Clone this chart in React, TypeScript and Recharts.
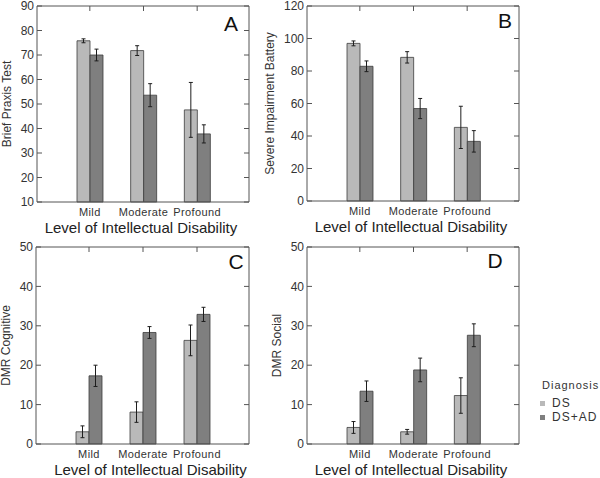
import { Bar, BarChart, ErrorBar, XAxis, YAxis } from "recharts";

const levels = ["Mild", "Moderate", "Profound"];
const seriesNames = ["DS", "DS+AD"];
const seriesColors = ["#b9b9b9", "#7f7f7f"];

// A - Brief Praxis Test
const praxisDS = [75.8, 71.8, 47.6];
const praxisDSErr = [0.8, 2, 11.2];
const praxisAD = [70, 53.6, 37.8];
const praxisADErr = [2.4, 4.7, 3.7];
const praxisTicks = [10, 20, 30, 40, 50, 60, 70, 80, 90];

// B - Severe Impairment Battery
const sibDS = [97, 88.4, 45.3];
const sibDSErr = [1.5, 3.5, 13];
const sibAD = [82.9, 56.9, 36.7];
const sibADErr = [3.3, 6.2, 6.6];
const sibTicks = [0, 20, 40, 60, 80, 100, 120];

// C - DMR Cognitive
const cogDS = [3.1, 8.1, 26.3];
const cogDSErr = [1.5, 2.6, 3.9];
const cogAD = [17.3, 28.3, 32.9];
const cogADErr = [2.7, 1.5, 1.8];
const dmrTicks = [0, 10, 20, 30, 40, 50];

// D - DMR Social
const socDS = [4.2, 3.1, 12.3];
const socDSErr = [1.5, 0.6, 4.5];
const socAD = [13.4, 18.8, 27.6];
const socADErr = [2.6, 3, 2.9];

const FRAME = "#555";
const TEXT = "#333";
const PAD = { left: 26, right: 25 };

type PanelProps = {
  left: number;
  top: number;
  width: number;
  height: number;
  margin: { top: number; right: number; bottom: number; left: number };
  yWidth: number;
  ticks: number[];
  yLabel: string;
  yLabelOffset: number;
  titleDx: number;
  letter: string;
  letterX: number;
  letterY: number;
  ds: number[];
  dsErr: number[];
  ad: number[];
  adErr: number[];
};

// top edge of the plot box with its inside category ticks
function TopFrame({ p }: { p: PanelProps }) {
  const x0 = p.margin.left + p.yWidth;
  const x1 = p.width - p.margin.right;
  const y = p.margin.top;
  const band = (x1 - x0 - PAD.left - PAD.right) / levels.length;
  return (
    <svg
      width={p.width}
      height={p.height}
      style={{ position: "absolute", left: 0, top: 0, pointerEvents: "none" }}
    >
      <line x1={x0} x2={x1} y1={y} y2={y} stroke={FRAME} />
      {levels.map((level, i) => {
        const cx = x0 + PAD.left + band * (i + 0.5);
        return <line key={level} x1={cx} x2={cx} y1={y} y2={y + 5} stroke={FRAME} />;
      })}
    </svg>
  );
}

function Panel(p: PanelProps) {
  const rows = levels.map((level, i) => ({
    level,
    ds: p.ds[i],
    dsErr: p.dsErr[i],
    ad: p.ad[i],
    adErr: p.adErr[i],
  }));
  const domain: [number, number] = [p.ticks[0], p.ticks[p.ticks.length - 1]];

  return (
    <div style={{ position: "absolute", left: p.left, top: p.top }}>
      <BarChart width={p.width} height={p.height} data={rows} margin={p.margin} barGap={0} barSize={13}>
        <XAxis
          dataKey="level"
          height={34}
          padding={PAD}
          tickLine={false}
          tickSize={0}
          tickMargin={6}
          axisLine={{ stroke: FRAME }}
          tick={{ fontSize: 11, fill: TEXT, style: { letterSpacing: "0.4px" } }}
          label={{
            value: "Level of Intellectual Disability",
            position: "insideBottom",
            offset: 3,
            fontSize: 15,
            fill: "#222",
            style: { transform: `translateX(${p.titleDx}px)` },
          }}
        />
        <YAxis
          width={p.yWidth}
          domain={domain}
          ticks={p.ticks}
          interval={0}
          tickLine={false}
          tickSize={0}
          tickMargin={3}
          axisLine={{ stroke: FRAME }}
          tick={{ fontSize: 12, fill: TEXT }}
          label={{
            value: p.yLabel,
            angle: -90,
            position: "insideLeft",
            offset: p.yLabelOffset,
            fontSize: 12,
            fill: TEXT,
            style: { textAnchor: "middle" },
          }}
        />
        <YAxis
          yAxisId="leftIn"
          mirror
          domain={domain}
          allowDataOverflow
          ticks={p.ticks}
          interval={0}
          tickSize={5}
          tickFormatter={() => ""}
          axisLine={false}
          tickLine={{ stroke: FRAME }}
        />
        <YAxis
          yAxisId="right"
          orientation="right"
          mirror
          domain={domain}
          allowDataOverflow
          ticks={p.ticks}
          interval={0}
          tickSize={5}
          tickFormatter={() => ""}
          axisLine={{ stroke: FRAME }}
          tickLine={{ stroke: FRAME }}
        />
        <Bar dataKey="ds" name={seriesNames[0]} fill={seriesColors[0]} stroke="#3c3c3c" strokeWidth={0.8} isAnimationActive={false}>
          <ErrorBar dataKey="dsErr" width={2} stroke="#1e1e1e" strokeWidth={1} />
        </Bar>
        <Bar dataKey="ad" name={seriesNames[1]} fill={seriesColors[1]} stroke="#3c3c3c" strokeWidth={0.8} isAnimationActive={false}>
          <ErrorBar dataKey="adErr" width={2} stroke="#1e1e1e" strokeWidth={1} />
        </Bar>
      </BarChart>
      <TopFrame p={p} />
      <div
        style={{
          position: "absolute",
          left: p.letterX,
          top: p.letterY,
          transform: "translate(-50%, -50%)",
          fontSize: 21,
          lineHeight: "21px",
          color: "#111",
        }}
      >
        {p.letter}
      </div>
    </div>
  );
}

export default function App() {
  return (
    <div
      style={{
        position: "absolute",
        left: 0,
        top: 0,
        width: 600,
        height: 478,
        overflow: "hidden",
        background: "#fff",
        fontFamily: "'Liberation Sans', Arial, sans-serif",
      }}
    >
      <Panel
        left={0}
        top={-6}
        width={300}
        height={246}
        margin={{ top: 12, right: 51, bottom: 4, left: 0 }}
        yWidth={37}
        ticks={praxisTicks}
        yLabel="Brief Praxis Test"
        yLabelOffset={7}
        titleDx={-2}
        letter="A"
        letterX={231}
        letterY={29}
        ds={praxisDS}
        dsErr={praxisDSErr}
        ad={praxisAD}
        adErr={praxisADErr}
      />
      <Panel
        left={260}
        top={-6}
        width={300}
        height={246}
        margin={{ top: 12, right: 41, bottom: 5, left: 0 }}
        yWidth={47}
        ticks={sibTicks}
        yLabel="Severe Impairment Battery"
        yLabelOffset={10}
        titleDx={-2}
        letter="B"
        letterX={245}
        letterY={26}
        ds={sibDS}
        dsErr={sibDSErr}
        ad={sibAD}
        adErr={sibADErr}
      />
      <Panel
        left={0}
        top={238}
        width={300}
        height={240}
        margin={{ top: 9, right: 51, bottom: 0, left: 0 }}
        yWidth={36}
        ticks={dmrTicks}
        yLabel="DMR Cognitive"
        yLabelOffset={6}
        titleDx={8}
        letter="C"
        letterX={236}
        letterY={23}
        ds={cogDS}
        dsErr={cogDSErr}
        ad={cogAD}
        adErr={cogADErr}
      />
      <Panel
        left={260}
        top={238}
        width={300}
        height={240}
        margin={{ top: 9, right: 41, bottom: 0, left: 0 }}
        yWidth={47}
        ticks={dmrTicks}
        yLabel="DMR Social"
        yLabelOffset={17}
        titleDx={-2}
        letter="D"
        letterX={235}
        letterY={22}
        ds={socDS}
        dsErr={socDSErr}
        ad={socAD}
        adErr={socADErr}
      />
      <div style={{ position: "absolute", left: 542, top: 377, color: TEXT }}>
        <div style={{ fontSize: 11, letterSpacing: "1px", lineHeight: "16px" }}>Diagnosis</div>
        <div style={{ marginTop: 3 }}>
          {seriesNames.map((name, i) => (
            <div key={name} style={{ display: "flex", alignItems: "center", height: 14, marginLeft: -2 }}>
              <span style={{ width: 5, height: 5, background: seriesColors[i], display: "inline-block" }} />
              <span style={{ fontSize: 12, letterSpacing: "1px", marginLeft: 7 }}>{name}</span>
            </div>
          ))}
        </div>
      </div>
    </div>
  );
}
